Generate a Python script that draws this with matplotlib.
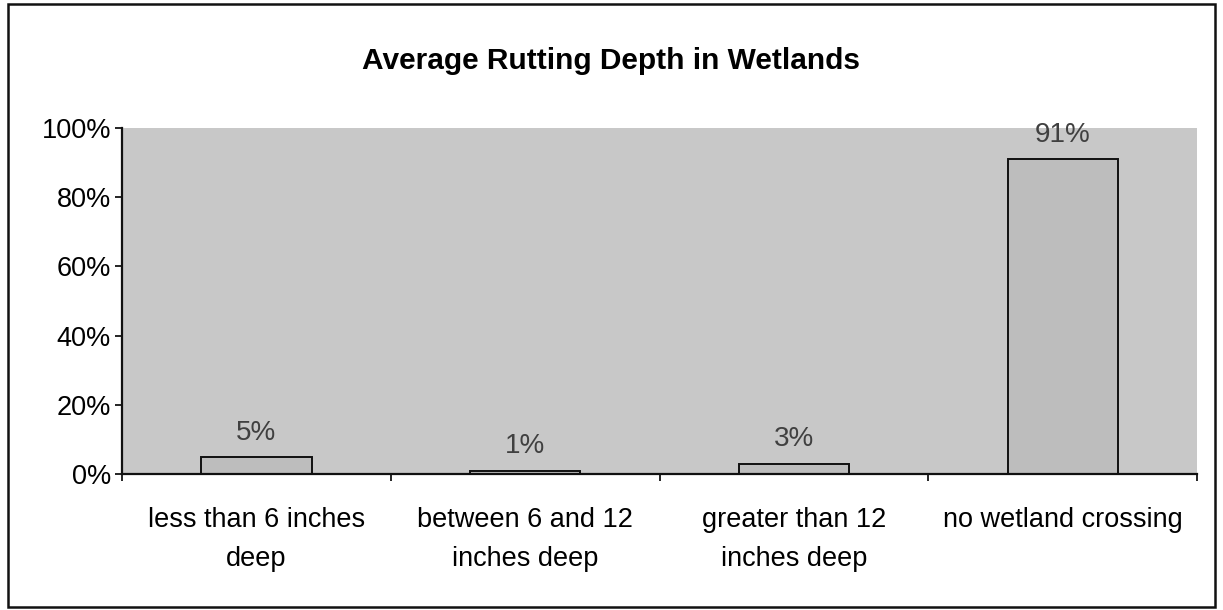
import matplotlib
matplotlib.use("Agg")
import matplotlib.pyplot as plt
from matplotlib.patches import Rectangle
from matplotlib.ticker import FixedLocator, PercentFormatter

categories = ["less than 6 inches\ndeep", "between 6 and 12\ninches deep",
              "greater than 12\ninches deep", "no wetland crossing"]
values = [5, 1, 3, 91]
value_labels = ["5%", "1%", "3%", "91%"]
y_ticks = [0, 20, 40, 60, 80, 100]
title = "Average Rutting Depth in Wetlands"

plt.rcParams["font.family"] = ["Liberation Sans", "DejaVu Sans"]

fig = plt.figure(figsize=(12.23, 6.10), dpi=100)
ax = fig.add_axes([0.0998, 0.223, 0.8790, 0.567])

ax.set_facecolor("#c8c8c8")
x = range(len(categories))
bars = ax.bar(x, values, width=0.41, color="#bdbdbd", edgecolor="#111111",
              linewidth=1.4, zorder=2)

for b, lab in zip(bars, value_labels):
    ax.annotate(lab, (b.get_x() + b.get_width() / 2, b.get_height()),
                xytext=(0, 8), textcoords="offset points",
                ha="center", va="bottom", fontsize=20, color="#404040")

ax.set_xlim(-0.5, len(categories) - 0.5)
ax.set_ylim(0, 100)

ax.yaxis.set_major_locator(FixedLocator(y_ticks))
ax.yaxis.set_major_formatter(PercentFormatter(decimals=0))
ax.tick_params(axis="y", labelsize=19.5, length=5, width=1.2, pad=3, direction="out")

ax.set_xticks(list(x))
ax.set_xticklabels(categories, fontsize=19.5, linespacing=1.65)
ax.tick_params(axis="x", length=0, pad=24)
ax.set_xticks([i + 0.5 for i in range(-1, len(categories))], minor=True)
ax.tick_params(axis="x", which="minor", length=5, width=1.2, direction="out")

for side in ("top", "right"):
    ax.spines[side].set_visible(False)
for side in ("left", "bottom"):
    ax.spines[side].set_linewidth(1.6)
    ax.spines[side].set_color("#111111")

fig.text(0.5, 0.900, title, ha="center", va="center", fontsize=21.5,
         fontweight="bold", color="#000000")

fig.patches.append(Rectangle((8 / 1223, 3 / 610), 1207 / 1223, 603 / 610,
                             transform=fig.transFigure, fill=False,
                             edgecolor="#111111", linewidth=1.8))

fig.savefig("out.png", dpi=100)
